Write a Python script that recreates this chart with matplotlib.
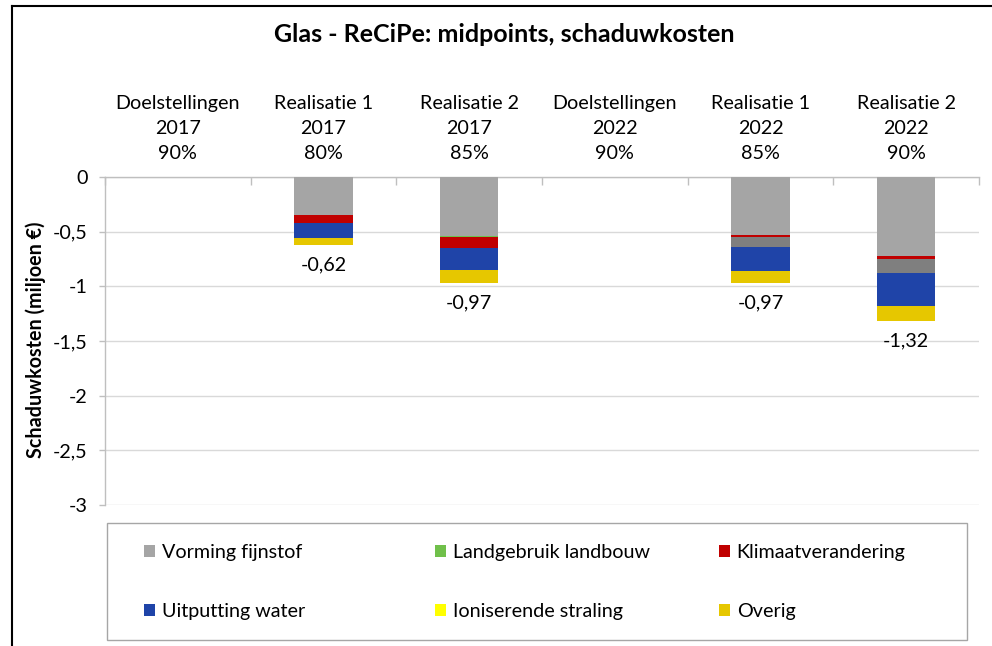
import matplotlib
matplotlib.use("Agg")
import matplotlib.pyplot as plt
from matplotlib.lines import Line2D
from matplotlib.patches import Rectangle
import numpy as np

plt.rcParams['font.family'] = ['Lato', 'DejaVu Sans']

# --- data -------------------------------------------------------------
categories = ["Doelstellingen\n2017\n90%", "Realisatie 1\n2017\n80%",
              "Realisatie 2\n2017\n85%", "Doelstellingen\n2022\n90%",
              "Realisatie 1\n2022\n85%", "Realisatie 2\n2022\n90%"]

vorming_fijnstof = [0, -0.35, -0.54, 0, -0.535, -0.725]
landgebruik_landbouw = [0, 0, -0.005, 0, 0, 0]
klimaatverandering = [0, -0.07, -0.10, 0, -0.012, -0.024]
overige_midpoints = [0, 0, 0, 0, -0.097, -0.13]
uitputting_water = [0, -0.14, -0.21, 0, -0.215, -0.30]
ioniserende_straling = [0, 0, 0, 0, 0, 0]
overig = [0, -0.063, -0.115, 0, -0.11, -0.14]

y_ticks = [0, -0.5, -1, -1.5, -2, -2.5, -3]
y_tick_labels = ["0", "-0,5", "-1", "-1,5", "-2", "-2,5", "-3"]

series = [
    ("Vorming fijnstof", vorming_fijnstof, "#a5a5a5"),
    ("Landgebruik landbouw", landgebruik_landbouw, "#70c04a"),
    ("Klimaatverandering", klimaatverandering, "#c00000"),
    ("_nolegend_", overige_midpoints, "#7f7f7f"),
    ("Uitputting water", uitputting_water, "#1f44a8"),
    ("Ioniserende straling", ioniserende_straling, "#ffff00"),
    ("Overig", overig, "#e6c700"),
]

FS = 14.2

# --- figure -----------------------------------------------------------
W, H = 992, 646
fig = plt.figure(figsize=(W / 100, H / 100), dpi=100)
ax = fig.add_axes([105 / W, 1 - 505 / H, (979 - 105) / W, (505 - 177) / H])

x = np.arange(len(categories))
bottom = np.zeros(len(categories))
handles = {}
for name, vals, col in series:
    vals = np.array(vals, dtype=float)
    b = ax.bar(x, vals, width=0.4, bottom=bottom, color=col, label=name,
               linewidth=0, zorder=3)
    handles[name] = b
    bottom = bottom + vals

totals = bottom
for xi, t in zip(x, totals):
    if t != 0:
        ax.annotate(f"{t:.2f}".replace(".", ","), (xi, t), xytext=(0, -8),
                    textcoords="offset points", ha="center", va="top",
                    fontsize=FS, color="#000000")

ax.set_xlim(-0.5, len(categories) - 0.5)
ax.set_ylim(-3, 0)
ax.set_yticks(y_ticks)
ax.set_yticklabels(y_tick_labels, fontsize=FS)
ax.yaxis.grid(True, color="#d9d9d9", linewidth=1.0, zorder=0)
ax.set_axisbelow(True)

ax.xaxis.tick_top()
ax.set_xticks(x)
ax.set_xticklabels(categories, fontsize=FS, linespacing=1.55)
ax.tick_params(axis="x", which="major", length=0, pad=11)
ax.set_xticks(np.arange(-0.5, len(categories)), minor=True)
ax.tick_params(axis="x", which="minor", direction="in", length=5.5,
               color="#bfbfbf", width=1, top=True, bottom=False)
ax.tick_params(axis="y", direction="out", length=4.5, color="#bfbfbf",
               width=1, pad=8)

for s in ["right", "bottom"]:
    ax.spines[s].set_visible(False)
ax.spines["left"].set_color("#bfbfbf")
ax.spines["top"].set_color("#bfbfbf")
ax.spines["left"].set_linewidth(1)
ax.spines["top"].set_linewidth(1)

fig.text(36 / W, 1 - 340 / H, "Schaduwkosten (miljoen €)", rotation=90,
         ha="center", va="center", fontsize=FS, fontweight="bold")
fig.text(504 / W, 1 - 35 / H, "Glas - ReCiPe: midpoints, schaduwkosten",
         ha="center", va="center", fontsize=18, fontweight="bold")

# legend: frame plus three equal-width columns
fig.add_artist(Rectangle((107 / W, 6 / H), 860 / W, 117 / H,
                         transform=fig.transFigure, facecolor="white",
                         edgecolor="#a6a6a6", linewidth=1, zorder=1))
columns = [["Vorming fijnstof", "Uitputting water"],
           ["Landgebruik landbouw", "Ioniserende straling"],
           ["Klimaatverandering", "Overig"]]
col_left = [144, 435, 719]
for names, cx in zip(columns, col_left):
    lg = fig.legend([handles[n] for n in names], names, ncol=1,
                    loc="center left",
                    bbox_to_anchor=(cx / W, 1 - 582 / H),
                    bbox_transform=fig.transFigure,
                    fontsize=FS, handlelength=0.55, handleheight=0.55,
                    handletextpad=0.35, labelspacing=2.15, borderpad=0,
                    borderaxespad=0, frameon=False)
    lg.set_zorder(2)

# chart area border
fig.add_artist(Line2D([12 / W, 12 / W], [0, 1 - 6 / H], color="black",
                      linewidth=1.5, transform=fig.transFigure))
fig.add_artist(Line2D([12 / W, 1], [1 - 6 / H, 1 - 6 / H], color="black",
                      linewidth=1.5, transform=fig.transFigure))

fig.savefig("out.png", dpi=100, facecolor="white")
